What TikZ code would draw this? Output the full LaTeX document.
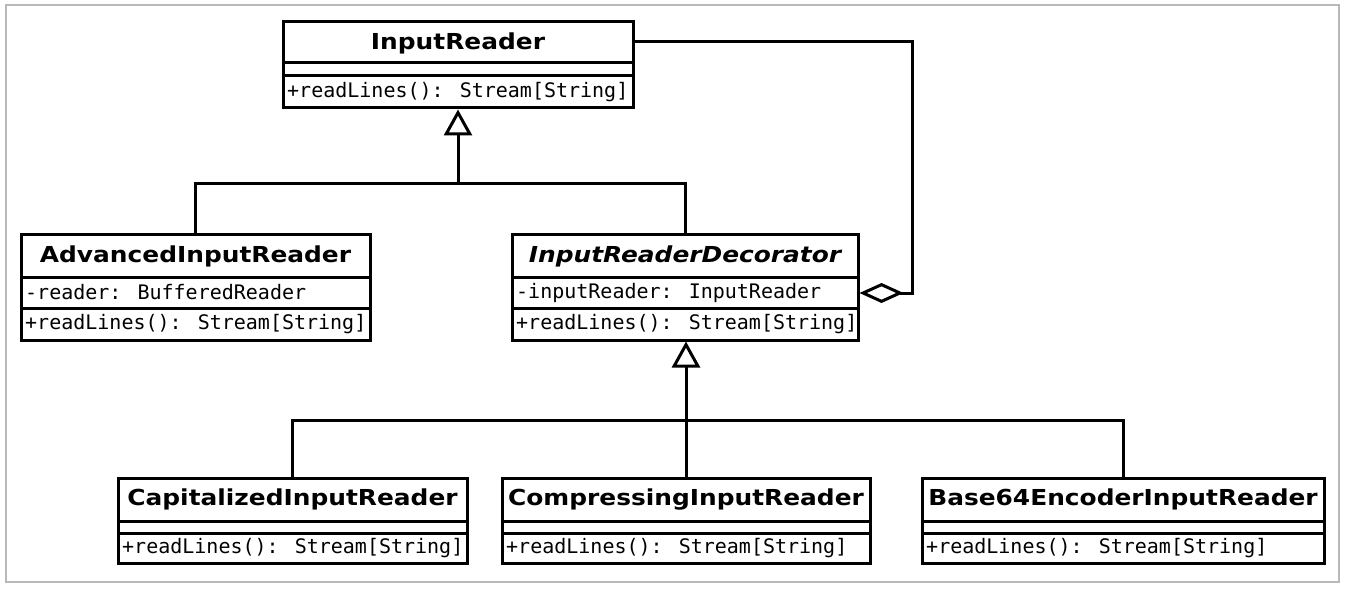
\documentclass[tikz,border=0pt]{standalone}
\usepackage{fontspec}
\setmainfont{DejaVu Sans}
\newfontfamily\monof{DejaVu Sans Mono}
\usetikzlibrary{arrows.meta,calc}
\newcommand{\wtitle}[1]{\scalebox{1.13}[1]{#1}}
\begin{document}
\begin{tikzpicture}[x=1pt,y=-1pt,
  classbox/.style={draw, line width=3pt, fill=white, inner sep=0pt},
  conn/.style={line width=3pt},
  divider/.style={line width=3pt},
  ttl/.style={font=\fontsize{22}{26}\selectfont\bfseries, inner sep=0pt},
  mem/.style={font=\monof\fontsize{20}{24}\selectfont, inner sep=0pt, anchor=west},
  gen/.style={-{Triangle[open, length=26pt, width=28pt, line width=3pt]}},
  agg/.style={{Diamond[open, length=44pt, width=20pt, line width=3pt]}-}
]
\useasboundingbox (0,0) rectangle (1349,591);
\draw[line width=2pt, gray!55] (6,5) rectangle (1339,582);

% InputReader
\node[classbox, minimum width=350pt, minimum height=86pt] (ir) at (458,65) {};
\draw[divider] (283,63) -- (633,63);
\draw[divider] (283,76) -- (633,76);
\node[ttl] (irt) at (458,43) {\wtitle{InputReader}};
\node[mem] (irm) at (287,92) {+readLines(): Stream[String]};

% AdvancedInputReader
\node[classbox, minimum width=349pt, minimum height=106pt] (adv) at (195.5,287) {};
\draw[divider] (21,277) -- (370,277);
\draw[divider] (21,308) -- (370,308);
\node[ttl] (advt) at (195.5,256) {\wtitle{AdvancedInputReader}};
\node[mem] (adva) at (25,292.5) {-reader: BufferedReader};
\node[mem] (advm) at (25,324) {+readLines(): Stream[String]};

% InputReaderDecorator
\node[classbox, minimum width=346pt, minimum height=106pt] (dec) at (685,287) {};
\draw[divider] (512,277) -- (858,277);
\draw[divider] (512,308) -- (858,308);
\node[ttl, font=\fontsize{22}{26}\selectfont\bfseries\itshape] (dect) at (685,256) {\wtitle{InputReaderDecorator}};
\node[mem] (deca) at (516,292.5) {-inputReader: InputReader};
\node[mem] (decm) at (516,324) {+readLines(): Stream[String]};

% CapitalizedInputReader
\node[classbox, minimum width=349pt, minimum height=85pt] (cap) at (292.5,520.5) {};
\draw[divider] (118,521) -- (467,521);
\draw[divider] (118,533) -- (467,533);
\node[ttl] (capt) at (292.5,499.5) {\wtitle{CapitalizedInputReader}};
\node[mem] (capm) at (122,548) {+readLines(): Stream[String]};

% CompressingInputReader
\node[classbox, minimum width=368pt, minimum height=85pt] (com) at (686,520.5) {};
\draw[divider] (502,521) -- (870,521);
\draw[divider] (502,533) -- (870,533);
\node[ttl] (comt) at (686,499.5) {\wtitle{CompressingInputReader}};
\node[mem] (comm) at (506,548) {+readLines(): Stream[String]};

% Base64EncoderInputReader
\node[classbox, minimum width=402pt, minimum height=85pt] (b64) at (1123,520.5) {};
\draw[divider] (922,521) -- (1324,521);
\draw[divider] (922,533) -- (1324,533);
\node[ttl] (b64t) at (1123,499.5) {\wtitle{Base64EncoderInputReader}};
\node[mem] (b64m) at (926,548) {+readLines(): Stream[String]};

% generalization to InputReader
\coordinate (j1) at (458,183);
\draw[conn] (adv.north) |- (j1);
\draw[conn] (dec.north) |- (j1);
\draw[conn, gen] (j1) -- (ir.south);

% generalization to InputReaderDecorator
\coordinate (j2) at (686,420);
\draw[conn] (cap.north) |- (j2);
\draw[conn] (b64.north) |- (j2);
\draw[conn, gen] (com.north) -- (com.north |- dec.south);

% aggregation
\coordinate (dattr) at (dec.east |- 0,293);
\coordinate (irr) at (ir.east |- 0,42);
\draw[conn, agg] (dattr) -- (912,293) |- (irr);
\end{tikzpicture}
\end{document}
